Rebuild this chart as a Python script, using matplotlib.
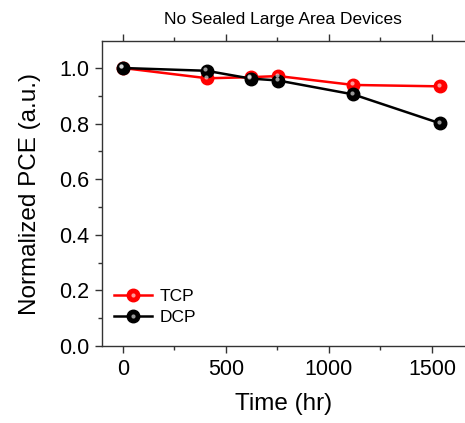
import matplotlib
matplotlib.use("Agg")
import matplotlib.pyplot as plt
import matplotlib.transforms as mtransforms
from matplotlib.legend_handler import HandlerTuple
from matplotlib.ticker import MultipleLocator

plt.rcParams['font.family'] = ['Liberation Sans', 'DejaVu Sans']

time_tcp = [0, 410, 620, 754, 1118, 1539]
pce_tcp = [1.0, 0.963, 0.967, 0.971, 0.939, 0.934]
time_dcp = [0, 406, 620, 754, 1118, 1539]
pce_dcp = [1.0, 0.990, 0.962, 0.955, 0.905, 0.801]

fig = plt.figure(figsize=(4.65, 4.23), dpi=100)
ax = fig.add_axes([0.219, 0.182, 0.781, 0.721])

hl_tr = ax.transData + mtransforms.ScaledTranslation(-1.5/100, 1.5/100, fig.dpi_scale_trans)

handles = []
for t, v, c, lab in [(time_tcp, pce_tcp, '#ff0000', 'TCP'), (time_dcp, pce_dcp, '#000000', 'DCP')]:
    l, = ax.plot(t, v, '-', color=c, lw=1.8, marker='o', ms=9, mfc=c, mec=c, zorder=3, label=lab)
    h, = ax.plot(t, v, 'o', ms=3.0, mfc='white', mec='none', alpha=0.6, zorder=4, transform=hl_tr)
    handles.append((l, h))

ax.set_xlim(-102, 1660)
ax.set_ylim(0, 1.097)
ax.xaxis.set_major_locator(MultipleLocator(500))
ax.xaxis.set_minor_locator(MultipleLocator(250))
ax.yaxis.set_minor_locator(MultipleLocator(0.1))
ax.set_yticks([0, 0.2, 0.4, 0.6, 0.8, 1.0])
ax.set_yticklabels(['0.0', '0.2', '0.4', '0.6', '0.8', '1.0'])

ax.spines['right'].set_visible(False)
for s in ['left', 'bottom', 'top']:
    ax.spines[s].set_color('#333333')
    ax.spines[s].set_linewidth(1.0)

ax.tick_params(which='both', direction='out', top=True, right=False, color='#333333', width=1.0)
ax.tick_params(which='major', length=5, labelsize=15.5, pad=4)
ax.tick_params(which='minor', length=3)

ax.set_xlabel('Time (hr)', fontsize=17.5, labelpad=10)
ax.set_ylabel('Normalized PCE (a.u.)', fontsize=17.5, labelpad=13)
ax.set_title('No Sealed Large Area Devices', fontsize=12.5, pad=12)

ax.legend(handles, ['TCP', 'DCP'], handler_map={tuple: HandlerTuple(ndivide=1)},
          loc='lower left', bbox_to_anchor=(0.0, 0.03), frameon=False, fontsize=12.5,
          handlelength=2.2, handletextpad=0.4, labelspacing=0.3, borderaxespad=0.3)

fig.savefig('out.png', dpi=100)
